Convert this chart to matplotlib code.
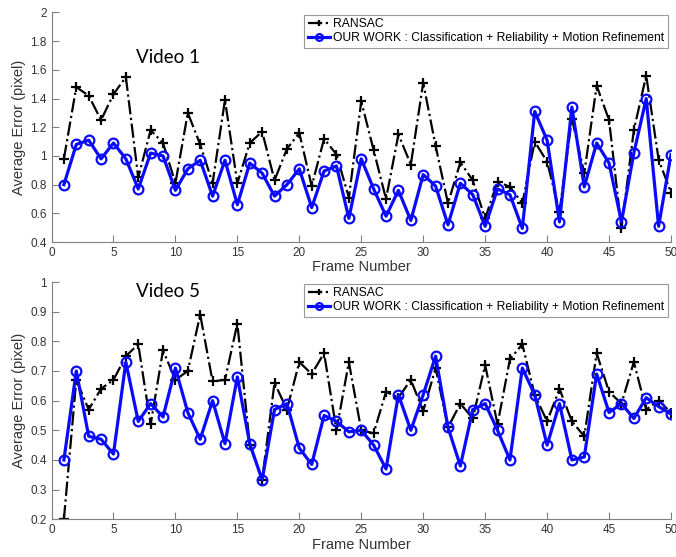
import matplotlib
matplotlib.use("Agg")
import matplotlib.pyplot as plt

plt.rcParams["font.family"] = ["Liberation Sans", "DejaVu Sans"]

frames = list(range(1, 51))

ransac_v1 = [0.98, 1.48, 1.42, 1.25, 1.43, 1.55, 0.85, 1.18, 1.09, 0.81,
             1.30, 1.08, 0.81, 1.39, 0.81, 1.09, 1.17, 0.83, 1.05, 1.16,
             0.79, 1.12, 1.01, 0.71, 1.38, 1.04, 0.70, 1.15, 0.94, 1.51,
             1.07, 0.67, 0.955, 0.83, 0.565, 0.82, 0.785, 0.67, 1.10, 0.96,
             0.61, 1.26, 0.88, 1.49, 1.25, 0.495, 1.18, 1.56, 0.975, 0.745]
ours_v1 = [0.80, 1.08, 1.11, 0.98, 1.09, 0.98, 0.77, 1.02, 1.00, 0.76,
           0.91, 0.97, 0.72, 0.97, 0.66, 0.95, 0.88, 0.72, 0.80, 0.91,
           0.64, 0.895, 0.93, 0.565, 0.98, 0.77, 0.58, 0.76, 0.55, 0.87,
           0.79, 0.52, 0.81, 0.73, 0.51, 0.77, 0.73, 0.495, 1.31, 1.11,
           0.54, 1.34, 0.785, 1.09, 0.95, 0.54, 1.02, 1.40, 0.51, 1.01]

ransac_v5 = [0.20, 0.67, 0.57, 0.64, 0.67, 0.75, 0.79, 0.52, 0.77, 0.67,
             0.70, 0.89, 0.665, 0.67, 0.86, 0.45, 0.333, 0.66, 0.57, 0.73,
             0.69, 0.76, 0.50, 0.73, 0.50, 0.49, 0.63, 0.61, 0.67, 0.565,
             0.71, 0.51, 0.59, 0.54, 0.72, 0.52, 0.74, 0.79, 0.62, 0.53,
             0.64, 0.53, 0.48, 0.76, 0.63, 0.59, 0.73, 0.57, 0.60, 0.56]
ours_v5 = [0.40, 0.70, 0.48, 0.47, 0.42, 0.73, 0.53, 0.59, 0.545, 0.71,
           0.56, 0.47, 0.60, 0.455, 0.68, 0.455, 0.333, 0.57, 0.59, 0.44,
           0.385, 0.55, 0.53, 0.495, 0.50, 0.45, 0.37, 0.62, 0.50, 0.62,
           0.75, 0.51, 0.38, 0.57, 0.59, 0.50, 0.40, 0.71, 0.62, 0.45,
           0.59, 0.40, 0.41, 0.69, 0.56, 0.59, 0.54, 0.61, 0.58, 0.555]

panels = [
    ("Video 1", ransac_v1, ours_v1, (0.4, 2.0), [0.4, 0.6, 0.8, 1, 1.2, 1.4, 1.6, 1.8, 2],
     ["0.4", "0.6", "0.8", "1", "1.2", "1.4", "1.6", "1.8", "2"]),
    ("Video 5", ransac_v5, ours_v5, (0.2, 1.0), [0.2, 0.3, 0.4, 0.5, 0.6, 0.7, 0.8, 0.9, 1],
     ["0.2", "0.3", "0.4", "0.5", "0.6", "0.7", "0.8", "0.9", "1"]),
]

fig = plt.figure(figsize=(6.76, 5.57), dpi=100)
axes_pos = [[0.0762, 0.5655, 0.9164, 0.4121],
            [0.0762, 0.0677, 0.9164, 0.4260]]
title_y = [0.806, 0.958]
leg_top = [0.99, 0.993]

for i, (name, ransac, ours, ylim, yt, ytl) in enumerate(panels):
    ax = fig.add_axes(axes_pos[i])
    ax.plot(frames, ransac, color="black", linestyle="-.", linewidth=1.6,
            marker="+", markersize=7, markeredgewidth=1.6, label="RANSAC")
    ax.plot(frames, ours, color="#0a0aff", linestyle="-", linewidth=2.3,
            marker="o", markersize=7, markerfacecolor="none",
            markeredgewidth=1.6,
            label="OUR WORK : Classification + Reliability + Motion Refinement")
    ax.set_xlim(0, 50)
    ax.set_ylim(*ylim)
    ax.set_xticks(range(0, 51, 5))
    ax.set_yticks(yt)
    ax.set_yticklabels(ytl)
    for s in ["top", "right"]:
        ax.spines[s].set_visible(False)
    for s in ["left", "bottom"]:
        ax.spines[s].set_color("#808080")
    ax.tick_params(direction="in", length=5, color="#808080",
                   labelsize=8.5, labelcolor="#333333")
    ax.set_xlabel("Frame Number", fontsize=10.5, color="#333333", labelpad=1)
    ax.set_ylabel("Average Error (pixel)", fontsize=10.5, color="#333333", labelpad=3)
    ax.text(0.188, title_y[i], name, transform=ax.transAxes, ha="center",
            va="center", fontsize=13.5, family=["Lato", "DejaVu Sans"])
    leg = ax.legend(loc="upper right", bbox_to_anchor=(0.995, leg_top[i]),
                    borderaxespad=0, fancybox=False, fontsize=8.7,
                    handlelength=1.8, handletextpad=0.3, borderpad=0.3,
                    labelspacing=0.15, markerscale=0.7)
    leg.get_frame().set_edgecolor("#808080")
    leg.get_frame().set_linewidth(0.8)

fig.savefig("out.png", dpi=100)
plt.close()
